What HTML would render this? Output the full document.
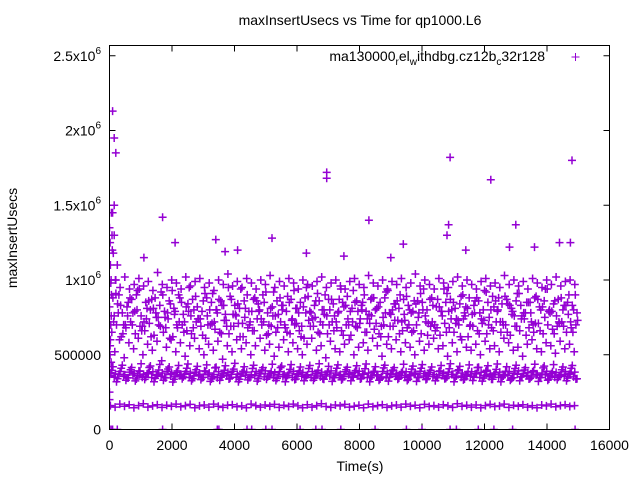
<!DOCTYPE html>
<html><head><meta charset="utf-8"><style>
body{margin:0;background:#fff}
svg{display:block;font-family:"Liberation Sans",sans-serif}
</style></head><body>
<svg id="chart" width="640" height="480" viewBox="0 0 640 480">
<rect width="640" height="480" fill="#fff"/>
<text x="360" y="25" font-size="14" text-anchor="middle">maxInsertUsecs vs Time for qp1000.L6</text>
<text x="0" y="0" font-size="14" text-anchor="middle" transform="translate(17,238) rotate(-90)">maxInsertUsecs</text>
<text x="360" y="471" font-size="14" text-anchor="middle">Time(s)</text>
<g id="ticks"></g>
<clipPath id="pc"><rect x="109" y="45" width="500" height="385"/></clipPath>
<g id="marks" clip-path="url(#pc)" stroke="#9400d3" stroke-width="1.5" fill="none"></g>
<rect x="109.5" y="45.5" width="500" height="384" fill="none" stroke="#000" stroke-width="1"/>
<g>
<text x="545" y="61" font-size="14" text-anchor="end">ma130000<tspan font-size="10" dy="4">r</tspan><tspan dy="-4">el</tspan><tspan font-size="10" dy="4">w</tspan><tspan dy="-4">ithdbg.cz12b</tspan><tspan font-size="10" dy="4">c</tspan><tspan dy="-4">32r128</tspan></text>
<path d="M571.5 57h8M575.5 53v8" stroke="#9400d3"/>
</g>
</svg>
<script>
const xTicks=[0,2000,4000,6000,8000,10000,12000,14000,16000];
const yTicks=[0,500000,1000000,1500000,2000000,2500000];
const yTickLabels=[["0",""],["500000",""],["1x10","6"],["1.5x10","6"],["2x10","6"],["2.5x10","6"]];
const binStep=150;
const up1=[820,760,900,700,850,780,930,690,810,870,750,920,680,840,790,880,720,950,800,740,860,700,910,780,830,690,870,760,940,810,720,880,800,850,700,920,770,830,890,740,810,690,950,780,860,720,900,800,760,870,820,700,930,790,850,740,880,810,690,920,770,840,900,730,800,860,780,940,710,830,870,760,910,800,740,890,820,700,860,780,930,750,820,880,700,840,790,910,760,850,720,890,800,940,780,860,710,830,900,800];
const up2=[650,700,620,680,720,640,690,660,710,630,700,650,740,620,680,700,660,640,720,690,610,700,670,650,730,640,690,710,620,680,660,740,700,630,690,650,720,680,640,700,660,610,730,690,650,700,640,720,680,660,700,630,690,740,650,710,670,640,700,620,690,730,660,680,650,700,640,720,690,660,630,710,680,650,700,740,620,690,660,710,640,680,720,650,700,630,690,660,740,680,650,710,640,700,670,690,720,650,680,700];
const up3=[980,1000,950,1020,940,970,1010,960,990,930,1050,970,950,1000,980,940,1020,960,990,1010,950,980,930,1000,970,1040,960,990,950,1010,980,940,1000,970,1030,950,990,960,1010,980,940,1000,970,960,990,1020,950,980,1000,960,940,990,1010,970,950,1030,980,960,1000,940,990,970,1010,950,980,1040,960,1000,970,940,1010,980,950,990,1020,960,1000,970,940,990,1010,960,980,950,1030,970,1000,960,990,940,1010,980,950,1000,970,1020,960,990,1000,970];
const up4=[880,840,780,820,870,900,760,850,800,880,830,790,860,810,900,770,840,870,820,790,880,850,800,860,770,890,830,810,860,790,870,840,900,780,820,860,830,790,870,810,850,880,790,830,860,800,870,840,780,850,890,810,860,830,790,870,800,850,880,780,840,810,870,830,790,860,850,800,880,820,790,850,870,810,840,780,880,830,860,800,850,890,790,840,870,810,860,830,780,850,880,820,860,790,840,870,800,850,830,780];
const up5=[560,520,600,480,580,540,610,500,570,530,590,460,550,600,520,580,490,560,610,540,500,570,530,590,470,560,520,600,540,580,500,560,610,530,570,490,550,600,520,580,540,500,570,610,530,560,480,590,540,520,570,600,500,550,580,530,610,560,490,570,540,600,520,580,550,500,590,530,570,610,540,560,490,580,520,600,550,530,570,500,590,540,560,520,610,580,530,550,490,570,600,540,520,580,560,510,590,540,570,520];
const up6=[760,910,830,700,880,790,940,720,860,810,750,900,780,930,700,850,820,760,890,740,910,800,720,870,830,950,770,840,710,900,790,860,740,920,810,760,880,700,850,930,780,820,890,740,910,800,760,870,720,940,830,790,850,710,900,770,880,820,750,930,800,860,720,890,780,840,910,760,870,700,820,940,790,850,730,900,810,770,880,740,920,800,860,720,890,830,760,910,780,850,700,870,820,940,790,760,880,830,720,900];
const up7=[720,780,640,760,700,800,660,740,620,780,690,750,610,770,720,650,790,680,740,630,760,710,800,640,730,690,770,620,750,700,660,790,720,640,760,680,800,650,730,710,620,780,690,750,640,770,700,660,790,630,740,720,680,800,650,760,710,620,780,690,730,640,770,700,660,750,800,630,720,680,790,650,740,710,620,760,690,780,640,730,700,660,800,720,650,770,690,740,630,780,710,660,750,800,640,720,690,770,650,730];
const mid1=[360,350,370,355,345,365,360,350,372,348,362,356,345,368,352,360,370,348,358,364,350,366,354,346,362,358,370,350,356,364,348,360,372,352,358,346,366,354,362,350,368,356,360,348,364,352,370,358,346,362,354,366,350,360,372,348,358,364,352,346,368,356,362,350,360,370,348,358,366,354,346,362,352,368,358,350,364,356,372,348,360,354,366,350,358,362,346,370,354,360,352,364,348,366,358,350,362,356,368,352];
const mid2=[395,320,410,330,400,325,390,335,415,320,398,330,405,318,392,340,410,326,400,334,388,322,412,330,396,338,404,320,390,332,408,324,398,336,386,328,414,320,402,334,392,326,408,330,396,340,384,322,410,332,400,326,394,338,406,320,390,330,412,324,398,336,388,328,404,322,410,334,396,326,392,340,406,320,400,332,388,328,414,324,396,336,402,320,390,330,408,326,398,338,394,322,412,330,386,334,400,326,410,338];
const mid3=[380,372,388,366,384,376,392,370,380,386,368,378,390,374,382,366,388,376,384,370,392,378,368,386,374,382,390,370,378,384,366,388,376,392,372,380,386,368,378,390,374,382,366,388,376,384,370,392,378,368,386,374,382,390,370,378,384,366,388,376,392,372,380,386,368,378,390,374,382,366,388,376,384,370,392,378,368,386,374,382,390,370,378,384,366,388,376,392,372,380,386,368,378,390,374,382,366,388,376,384];
const mid4=[420,340,430,345,415,338,440,350,425,342,435,348,418,336,428,352,438,340,422,346,432,338,416,350,426,344,442,336,420,348,430,340,414,352,436,342,424,346,434,338,418,350,428,344,440,336,422,348,432,340,416,352,426,342,438,346,420,338,430,350,414,344,436,336,424,348,434,340,418,352,428,342,440,346,422,338,432,350,416,344,426,336,438,348,420,340,430,352,414,342,436,346,424,338,434,350,418,344,428,340];
const low=[160,150,170,155,165,145,160,172,150,158,166,148,162,155,170,152,160,168,146,158,164,150,170,156,148,162,166,152,158,145,170,160,150,164,156,168,148,162,154,170,158,146,166,150,160,172,154,148,164,158,168,150,156,162,146,170,152,160,166,148,158,164,150,170,156,162,146,168,154,160,150,166,158,148,172,156,162,150,164,146,160,168,154,158,170,148,162,156,166,150,160,146,164,158,170,152,160,166,154,160];
const extraT=[100,150,200,0,100,150,60,80,90,120,150,20,30,50,60,40,30,20,50,70,0,0,0,200,250,6950,6950,10900,12200,14800,1700,8300,10850,10800,13000,14750,14400,12800,9400,5200,3400,2100,4100,6300,11400,7500,3700,9000,13600,1100];
const extraY=[2130,1950,1850,1350,1450,1500,1450,1300,1200,1180,1300,1250,1100,1000,900,700,600,500,450,420,250,200,160,1000,1100,1720,1680,1820,1670,1800,1420,1400,1370,1300,1370,1250,1250,1220,1240,1280,1270,1250,1200,1180,1200,1160,1190,1150,1220,1150];
const zeroT=[0,50,100,250,1700,3450,3500,4400,4550,5000,5200,6100,6600,6800,7400,8500,9500,10000,10900,11100,11800,12300,12900,14900];

const NS="http://www.w3.org/2000/svg";
function xs(t){return 109.5+t/16000*500;}
function ys(v){return 429.5-v/2000000*299;}
const marks=document.getElementById('marks');
function plus(t,v){
  const x=xs(t),y=ys(v);
  const p=document.createElementNS(NS,'path');
  p.setAttribute('d','M'+(x-4).toFixed(1)+' '+y.toFixed(1)+'h8M'+x.toFixed(1)+' '+(y-4).toFixed(1)+'v8');
  
  
  marks.appendChild(p);
}
const seriesList=[[up1,0],[up2,75],[up3,40],[up4,110],[up5,20],[up6,55],[up7,130],[mid1,0],[mid2,75],[mid3,40],[mid4,110],[low,30]];
seriesList.forEach(([arr,off])=>{
  arr.forEach((v,i)=>plus(off+i*binStep,v*1000));
});
extraT.forEach((t,i)=>plus(t,extraY[i]*1000));
zeroT.forEach(t=>plus(t,0));

const tg=document.getElementById('ticks');
xTicks.forEach(t=>{
  const x=xs(t);
  const l=document.createElementNS(NS,'path');
  l.setAttribute('d','M'+x+' 429.5v-6M'+x+' 45.5v6');
  l.setAttribute('stroke','#000');
  
  
  tg.appendChild(l);
  const tx=document.createElementNS(NS,'text');
  tx.setAttribute('x',x);tx.setAttribute('y',450);
  tx.setAttribute('font-size','14');tx.setAttribute('text-anchor','middle');
  tx.textContent=String(t);
  
  
  tg.appendChild(tx);
});
yTicks.forEach((v,i)=>{
  const y=ys(v);
  const l=document.createElementNS(NS,'path');
  l.setAttribute('d','M109.5 '+y+'h6M609.5 '+y+'h-6');
  l.setAttribute('stroke','#000');
  
  
  tg.appendChild(l);
  const tx=document.createElementNS(NS,'text');
  tx.setAttribute('x',101);tx.setAttribute('y',y+5);
  tx.setAttribute('font-size','14');tx.setAttribute('text-anchor','end');
  tx.textContent=yTickLabels[i][0];
  if(yTickLabels[i][1]){
    const s=document.createElementNS(NS,'tspan');
    s.setAttribute('font-size','10');s.setAttribute('dy','-7');
    s.textContent=yTickLabels[i][1];
    tx.appendChild(s);
  }
  
  
  tg.appendChild(tx);
});
</script>
</body></html>
